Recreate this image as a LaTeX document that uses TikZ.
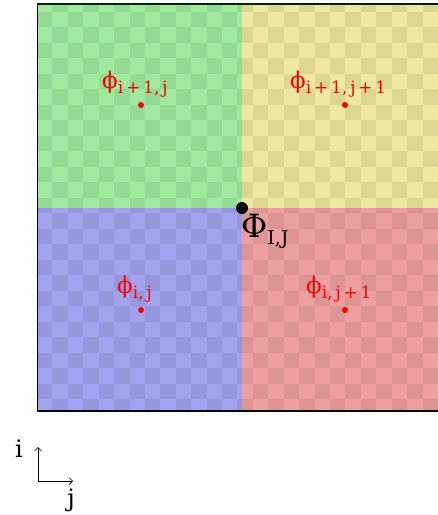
\documentclass[tikz,border=0pt]{standalone}
\usepackage{fontspec}
\setmainfont{DejaVu Serif}
\usetikzlibrary{arrows.meta}
\definecolor{qgreen}{RGB}{160,234,160}
\definecolor{qyellow}{RGB}{238,232,160}
\definecolor{qblue}{RGB}{162,162,238}
\definecolor{qred}{RGB}{238,160,160}
\newcommand{\phlab}[1]{{\fontsize{23}{26}\selectfont ϕ}\raisebox{-5pt}{\fontsize{17}{20}\selectfont #1}}
\newcommand{\Phlab}[1]{{\fontsize{32}{36}\selectfont Φ}\raisebox{-7pt}{\fontsize{19}{22}\selectfont #1}}
\begin{document}
\begin{tikzpicture}[x=1pt,y=-1pt,
  redlabel/.style={text=red,inner sep=0pt,anchor=base west},
  reddot/.style={circle,fill=red,inner sep=0pt,minimum size=6pt},
  axlabel/.style={inner sep=0pt,font=\fontsize{24}{28}\selectfont},
  axarrow/.style={-{Straight Barb[length=3.5pt,width=7pt]},line width=0.7pt}]
\useasboundingbox (0,0) rectangle (438,515);
% quadrants
\fill[qgreen] (37,4) rectangle (242,208);
\fill[qyellow] (242,4) rectangle (446,208);
\fill[qblue] (37,208) rectangle (242,411);
\fill[qred] (242,208) rectangle (446,411);
% checker overlay
\begin{scope}
\clip (37,4) rectangle (438,411);
\foreach \i in {0,...,26} {
  \foreach \j in {0,...,27} {
    \pgfmathtruncatemacro\p{mod(\i+\j,2)}
    \ifnum\p=1
      \fill[black,opacity=0.07] ({37+15.42*\i},{-3.8+15.5*\j}) rectangle ++(15.42,15.5);
    \fi
  }
}
\end{scope}
% borders
\draw[line width=1pt] (37,4) -- (37,411);
\draw[line width=1.5pt] (37,411) -- (438,411);
\draw[line width=2pt,black!85!green] (37,4) -- (438,4);
% center point
\node[circle,fill=black,inner sep=0pt,minimum size=12pt] (P) at (242,208) {};
\node[anchor=base west,inner sep=0pt] (PL) at (241,237) {\Phlab{I,J}};
% cell points
\node[reddot] (a) at (141,105) {};
\node[reddot] (b) at (345,105) {};
\node[reddot] (c) at (141,310) {};
\node[reddot] (d) at (345,310) {};
\node[redlabel] (al) at (102,88) {\phlab{i\,+\,1,\,j}};
\node[redlabel] (bl) at (290,88) {\phlab{i\,+\,1,\,j\,+\,1}};
\node[redlabel] (cl) at (117,293) {\phlab{i,\,j}};
\node[redlabel] (dl) at (306,293) {\phlab{i,\,j\,+\,1}};
% axes
\coordinate (o) at (38,481);
\coordinate (up) at (38,447);
\coordinate (rt) at (73,481);
\draw[axarrow] (o) -- (up);
\draw[axarrow] (o) -- (rt);
\node[axlabel,anchor=base] (il) at (19,457) {i};
\node[axlabel,anchor=base] (jl) at (71,506) {j};
\end{tikzpicture}
\end{document}
